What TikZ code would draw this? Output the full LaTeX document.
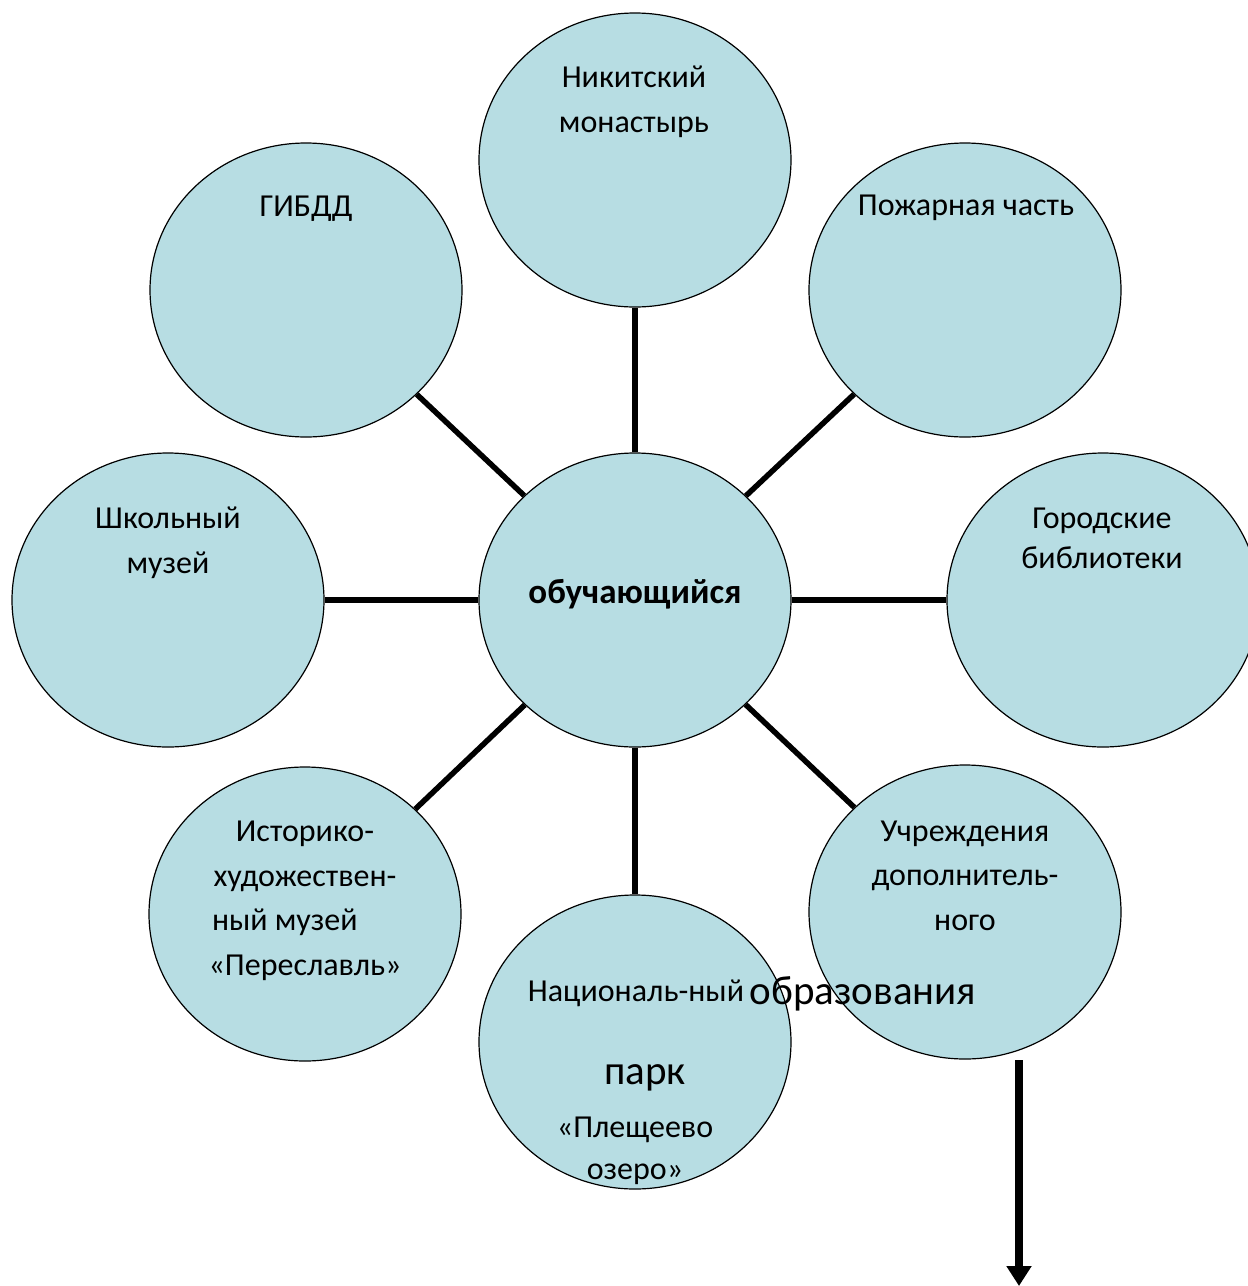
\documentclass[tikz,border=0pt]{standalone}
\usepackage{fontspec}
\setmainfont{Carlito}
\usetikzlibrary{shapes.geometric,positioning,arrows.meta}
\definecolor{circfill}{RGB}{183,221,227}

\begin{document}
\begin{tikzpicture}[x=1pt,y=-1pt,on grid,
                    main node/.style={ellipse,draw,fill=circfill,line width=1.2pt,
                      minimum width=312pt,minimum height=294pt,inner sep=0pt},
                    label node/.style={font=\fontsize{32}{44.5}\selectfont,
                      align=center,anchor=base,inner sep=0pt},
                    big node/.style={font=\fontsize{41}{48}\selectfont,
                      anchor=base,inner sep=0pt}]
  \useasboundingbox (0,0) rectangle (1248,1286);
  %circles%
  \node[main node] (1) at (635,600) {};
  \node[main node] (2) [above=440pt of 1] {};
  \node[main node] (3) [above right=310pt and 330pt of 1] {};
  \node[main node] (4) [right=468pt of 1] {};
  \node[main node] (5) [below right=312pt and 330pt of 1] {};
  \node[main node] (6) [below=442pt of 1] {};
  \node[main node] (7) [below left=314pt and 330pt of 1] {};
  \node[main node] (8) [left=467pt of 1] {};
  \node[main node] (9) [above left=310pt and 329pt of 1] {};

  \path[line width=5.5pt]
    (1) edge (2)
        edge (3)
        edge (4)
        edge (5)
        edge (6)
        edge (7)
        edge (8)
        edge (9);

  %texts (placed at the baseline of the last line)%
  \node[label node] (t1) at (635,603) {\fontsize{35}{44}\selectfont\bfseries обучающийся};
  \node[label node] (t2) at (634,132) {Никитский\\монастырь};
  \node[label node] (t3) at (966,215) {Пожарная часть};
  \node[label node] (t4) at (1102,568) {Городские\\[-4.5pt]библиотеки};
  \node[label node] (t5) at (965,930) {Учреждения\\дополнитель-\\ного};
  \node[big node] (t5b) at (863,1004) {образования};
  \node[label node] (t6) at (636,1001) {Националь-ный};
  \node[big node] (t6b) at (645,1084) {парк};
  \node[label node] (t6c) at (635,1179) {«Плещеево\\[-2.5pt]озеро»};
  \node[label node] (t7) at (305,975) {Историко-\\художествен-\\\hbox to 186pt{ный музей\hfil}\\«Переславль»};
  \node[label node] (t8) at (168,573) {Школьный\\музей};
  \node[label node] (t9) at (306,216) {ГИБДД};

  %arrow%
  \coordinate (a1) at (1019,1060);
  \coordinate (a2) at (1019,1286);
  \draw[line width=8pt,-{Triangle[width=24pt,length=20pt]}] (a1) -- (a2);
\end{tikzpicture}
\end{document}
